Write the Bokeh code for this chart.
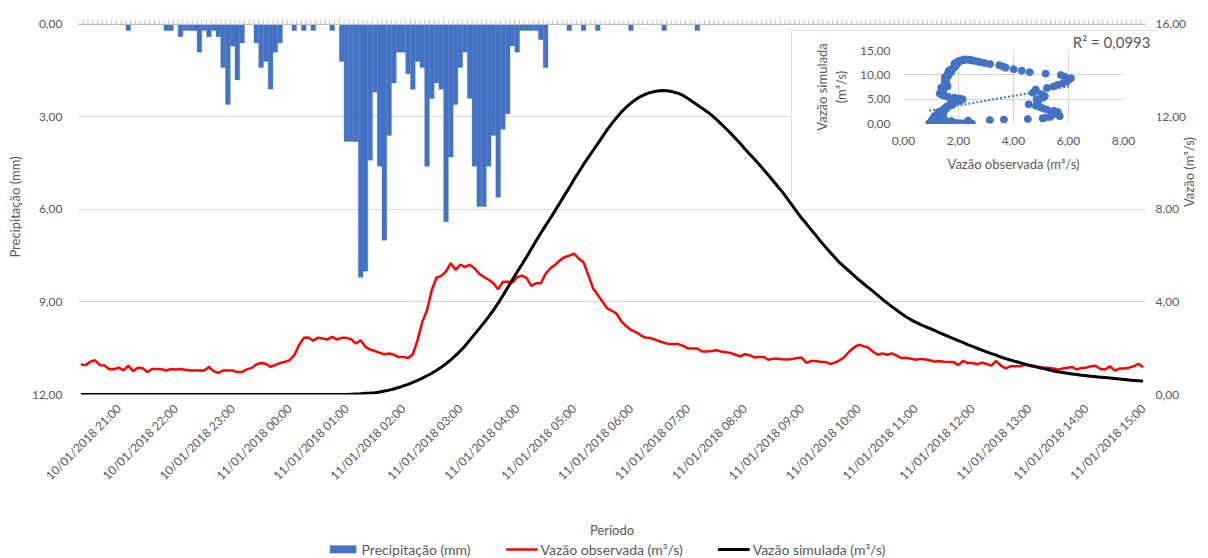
import math

import numpy as np
import pandas as pd
from bokeh.embed import file_html
from bokeh.models import (ColumnDataSource, FixedTicker, Grid, Legend, LegendItem,
                          LinearAxis, Range1d, Span)
from bokeh.plotting import figure
from bokeh.resources import INLINE

FONT = "Lato"
GREY = "#595959"
GRID = "#d9d9d9"
BLUE = "#4472C4"
RED = "#ff0000"

# Série a cada 5 min: 10/01/2018 20:20 até 11/01/2018 15:00 (225 registros)
inicio = pd.Timestamp("2018-01-10 20:20")
passo = pd.Timedelta(minutes=5)

precipitacao = (
    [0, 0, 0, 0, 0, 0, 0, 0, 0, 0, 0.2, 0]
    + [0, 0, 0, 0, 0, 0, 0.2, 0.2, 0, 0.4, 0.2, 0.2]
    + [0.2, 0.9, 0.2, 0.4, 0.2, 0.4, 1.4, 2.6, 0.7, 1.8, 0.6, 0]
    + [0, 0.6, 1.4, 1.2, 2.1, 0.9, 0.6, 0, 0, 0.2, 0, 0.2]
    + [0, 0.2, 0, 0, 0, 0.2, 0, 1.2, 3.8, 3.8, 3.8, 8.2]
    + [8.0, 4.4, 2.2, 4.6, 7.0, 3.6, 1.9, 0.9, 0.9, 1.6, 2.1, 1.2]
    + [1.4, 4.6, 2.4, 1.9, 2.1, 6.4, 4.3, 2.6, 1.4, 0.9, 2.4, 4.6]
    + [5.9, 5.9, 4.6, 3.6, 5.6, 3.4, 2.9, 0.7, 0.9, 0.2, 0.2, 0.2]
    + [0.2, 0.5, 1.4, 0, 0, 0, 0, 0.2, 0, 0, 0.2, 0]
    + [0, 0.2, 0, 0, 0, 0, 0, 0, 0.2, 0, 0, 0]
    + [0, 0, 0, 0.2, 0, 0, 0, 0, 0, 0, 0.2, 0]
    + [0] * 93
)

vazao_obs = [
    1.30, 1.27, 1.42, 1.48, 1.27, 1.25, 1.09, 1.09, 1.16, 1.04, 1.25, 1.01,
    1.16, 1.14, 0.97, 1.10, 1.10, 1.09, 1.04, 1.10, 1.08, 1.10, 1.07, 1.04,
    1.04, 1.04, 1.04, 1.19, 1.01, 0.93, 1.04, 1.04, 1.04, 0.97, 0.97, 1.09,
    1.14, 1.30, 1.36, 1.33, 1.19, 1.28, 1.36, 1.41, 1.48, 1.70, 2.13, 2.45,
    2.46, 2.32, 2.46, 2.42, 2.38, 2.49, 2.38, 2.45, 2.45, 2.39, 2.20, 2.35,
    2.06, 1.94, 1.88, 1.80, 1.74, 1.77, 1.72, 1.62, 1.62, 1.58, 1.74, 2.35,
    3.14, 3.65, 4.52, 5.06, 5.13, 5.32, 5.68, 5.39, 5.61, 5.51, 5.61, 5.46,
    5.22, 5.08, 4.96, 4.81, 4.55, 4.88, 4.88, 4.84, 5.07, 5.14, 5.03, 4.70,
    4.81, 4.81, 5.22, 5.46, 5.61, 5.80, 5.94, 6.00, 6.09, 5.87, 5.72, 5.17,
    4.59, 4.30, 4.01, 3.72, 3.62, 3.48, 3.15, 2.95, 2.79, 2.70, 2.57, 2.46,
    2.45, 2.38, 2.30, 2.24, 2.18, 2.18, 2.18, 2.10, 1.99, 1.99, 1.99, 1.86,
    1.86, 1.88, 1.91, 1.86, 1.83, 1.80, 1.72, 1.65, 1.74, 1.70, 1.60, 1.62,
    1.62, 1.50, 1.55, 1.55, 1.52, 1.51, 1.53, 1.58, 1.60, 1.37, 1.45, 1.45,
    1.41, 1.41, 1.32, 1.38, 1.48, 1.62, 1.85, 2.03, 2.15, 2.09, 2.03, 1.86,
    1.72, 1.78, 1.72, 1.78, 1.68, 1.58, 1.59, 1.55, 1.50, 1.54, 1.51, 1.48,
    1.42, 1.45, 1.42, 1.41, 1.41, 1.27, 1.45, 1.36, 1.36, 1.31, 1.37, 1.32,
    1.25, 1.45, 1.25, 1.13, 1.22, 1.22, 1.22, 1.29, 1.24, 1.20, 1.19, 1.17,
    1.16, 1.13, 1.07, 1.12, 1.16, 1.19, 1.08, 1.15, 1.16, 1.22, 1.24, 1.10,
    1.08, 1.22, 1.03, 1.12, 1.12, 1.16, 1.22, 1.33, 1.18,
]

vazao_sim = [0.0] * 57 + [
    0.01, 0.02, 0.03,
    0.05, 0.06, 0.08, 0.11, 0.15, 0.19, 0.24, 0.30, 0.37, 0.44, 0.52, 0.61,
    0.71, 0.81, 0.92, 1.05, 1.18, 1.33, 1.50, 1.68, 1.88, 2.10, 2.35, 2.60,
    2.85, 3.10, 3.37, 3.65, 3.95, 4.28, 4.62, 4.96, 5.30, 5.62, 5.95, 6.30,
    6.65, 6.98, 7.30, 7.62, 7.95, 8.28, 8.62, 8.95, 9.30, 9.62, 9.95, 10.25,
    10.55, 10.85, 11.15, 11.45, 11.72, 11.98, 12.22, 12.42, 12.60, 12.75, 12.88, 12.98,
    13.05, 13.10, 13.13, 13.14, 13.12, 13.08, 13.02, 12.93, 12.80, 12.66, 12.52, 12.38,
    12.24, 12.08, 11.90, 11.70, 11.50, 11.30, 11.08, 10.86, 10.63, 10.40, 10.18, 9.95,
    9.72, 9.48, 9.23, 8.98, 8.74, 8.46, 8.18, 7.90, 7.62, 7.38, 7.12, 6.88,
    6.62, 6.38, 6.15, 5.92, 5.70, 5.52, 5.33, 5.15, 4.97, 4.80, 4.63, 4.47,
    4.30, 4.12, 3.96, 3.80, 3.65, 3.50, 3.36, 3.24, 3.13, 3.03, 2.94, 2.86,
    2.77, 2.68, 2.59, 2.50, 2.42, 2.33, 2.25, 2.16, 2.08, 2.00, 1.92, 1.84,
    1.77, 1.70, 1.62, 1.55, 1.49, 1.43, 1.38, 1.32, 1.27, 1.22, 1.17, 1.12,
    1.07, 1.02, 0.98, 0.95, 0.92, 0.89, 0.86, 0.83, 0.81, 0.79, 0.77, 0.75,
    0.73, 0.71, 0.69, 0.67, 0.65, 0.63, 0.61, 0.59, 0.58,
]

precip_ticks = [0, 3, 6, 9, 12]
precip_labels = ["0,00", "3,00", "6,00", "9,00", "12,00"]
vazao_ticks = [0, 4, 8, 12, 16]
vazao_labels = ["0,00", "4,00", "8,00", "12,00", "16,00"]
inset_x_ticks = [0, 2, 4, 6, 8]
inset_x_labels = ["0,00", "2,00", "4,00", "6,00", "8,00"]
inset_y_ticks = [0, 5, 10, 15]
inset_y_labels = ["0,00", "5,00", "10,00", "15,00"]
r2_text = "R² = 0,0993"
series_names = ["Precipitação (mm)", "Vazão observada (m³/s)", "Vazão simulada (m³/s)"]

horas = pd.date_range("2018-01-10 21:00", "2018-01-11 15:00", freq="h")
hora_labels = [h.strftime("%d/%m/%Y %H:%M") for h in horas]


def _ms(ts):
    return np.asarray(pd.DatetimeIndex(ts).astype("int64") // 10**6, dtype=float)


def _style_axis(axis, label_size="13px"):
    axis.axis_line_color = None
    axis.major_tick_line_color = None
    axis.minor_tick_line_color = None
    axis.major_label_text_font = FONT
    axis.major_label_text_font_size = "12px"
    axis.major_label_text_color = GREY
    axis.axis_label_text_font = FONT
    axis.axis_label_text_font_size = label_size
    axis.axis_label_text_color = GREY
    axis.axis_label_text_font_style = "normal"


def _labels(ticks, labels):
    return {t: s for t, s in zip(ticks, labels)}


periodo = pd.date_range(inicio, periods=len(precipitacao), freq=passo)
t_ms = _ms(periodo)
meio = passo / pd.Timedelta(milliseconds=1) / 2
source = ColumnDataSource(data=dict(t=t_ms, prec=precipitacao, obs=vazao_obs, sim=vazao_sim))

# o template do Bokeh não tem margem no body: a figura ocupa a janela toda
W, H = 1208, 558
TOPO = -0.16  # espaço acima do zero para as marcas do eixo de categorias
p = figure(width=W, height=H, output_backend="svg", toolbar_location=None,
           x_range=Range1d(t_ms[0] - meio, t_ms[-1] + meio), y_range=Range1d(12, TOPO),
           x_axis_type=None, y_axis_type=None,
           min_border_left=78, min_border_right=56, min_border_top=19, min_border_bottom=164)
p.outline_line_color = None
p.extra_y_ranges = {"vazao": Range1d(0, 16 - TOPO * 16 / 12)}

ax_prec = LinearAxis(axis_label="Precipitação (mm)", ticker=FixedTicker(ticks=precip_ticks),
                     major_label_overrides=_labels(precip_ticks, precip_labels))
_style_axis(ax_prec)
ax_prec.major_label_standoff = 10
ax_prec.axis_label_standoff = 6
p.add_layout(ax_prec, "left")

ax_vazao = LinearAxis(y_range_name="vazao", axis_label="Vazão (m³/s)",
                      ticker=FixedTicker(ticks=vazao_ticks),
                      major_label_overrides=_labels(vazao_ticks, vazao_labels))
_style_axis(ax_vazao)
ax_vazao.major_label_standoff = 4
ax_vazao.axis_label_standoff = 0
if "axis_label_orientation" in ax_vazao.properties():
    ax_vazao.axis_label_orientation = math.pi / 2
p.add_layout(ax_vazao, "right")

tick_ms = _ms(horas)
ax_tempo = LinearAxis(axis_label="Período", ticker=FixedTicker(ticks=list(tick_ms)),
                      major_label_overrides={int(t): s for t, s in zip(tick_ms, hora_labels)},
                      major_label_orientation=math.pi / 4)
_style_axis(ax_tempo)
ax_tempo.major_label_standoff = 6
ax_tempo.axis_label_standoff = 31
p.add_layout(ax_tempo, "below")

p.add_layout(Grid(dimension=1, ticker=FixedTicker(ticks=precip_ticks[1:]), grid_line_color=GRID))

# eixo de categorias no topo: linha em zero e marcas entre registros
limites = np.append(t_ms - meio, t_ms[-1] + meio)
p.segment(x0=limites, y0=0, x1=limites, y1=TOPO, line_color="#c8c8c8", line_width=1)
p.add_layout(Span(location=0, dimension="width", line_color="#bfbfbf", line_width=1))

p.vbar(x="t", top="prec", bottom=0, width=2 * meio, source=source,
       fill_color=BLUE, line_color=BLUE, line_width=0.3)
p.line("t", "obs", source=source, y_range_name="vazao", line_color=RED, line_width=2.5)
p.line("t", "sim", source=source, y_range_name="vazao", line_color="black", line_width=3)

# gráfico de dispersão (observada x simulada)
IW, IH = 367, 167
ins = figure(width=IW, height=IH, output_backend="svg", toolbar_location=None,
             x_range=Range1d(0, 8), y_range=Range1d(0, 15),
             min_border_left=112, min_border_right=35, min_border_top=18, min_border_bottom=74)
ins.outline_line_color = None
ins.background_fill_color = "white"
ins.border_fill_color = "white"
ins.xaxis.ticker = FixedTicker(ticks=inset_x_ticks)
ins.yaxis.ticker = FixedTicker(ticks=inset_y_ticks)
ins.xaxis.major_label_overrides = _labels(inset_x_ticks, inset_x_labels)
ins.yaxis.major_label_overrides = _labels(inset_y_ticks, inset_y_labels)
ins.xaxis.axis_label = "Vazão observada (m³/s)"
ins.yaxis.axis_label = "Vazão simulada\n(m³/s)"
for ax in ins.xaxis + ins.yaxis:
    _style_axis(ax)
    ax.major_label_standoff = 7
    ax.axis_label_standoff = 8
ins.xgrid.grid_line_color = GRID
ins.ygrid.grid_line_color = GRID

ins.scatter("obs", "sim", source=source, size=7, fill_color=BLUE, line_color=BLUE)
coef = np.polyfit(vazao_obs, vazao_sim, 1)
xs = np.array([min(vazao_obs), max(vazao_obs)])
ins.line(xs, np.polyval(coef, xs), line_color=BLUE, line_width=2, line_dash="2 2")

ins.title.text = r2_text
ins.title.align = "right"
ins.title.offset = -27
ins.title.standoff = 0
ins.title.text_font = FONT
ins.title.text_font_size = "15px"
ins.title.text_font_style = "normal"
ins.title.text_color = GREY

ins.styles = {"position": "absolute", "left": "791px", "top": "30px",
              "outline": "1px solid #d9d9d9", "outline-offset": "-1px"}

# legenda em uma faixa própria abaixo do título do eixo; as séries ficam fora
# dos intervalos desta faixa, só as amostras da legenda aparecem
LW, LH = 620, 18
leg = figure(width=LW, height=LH, output_backend="svg", toolbar_location=None,
             x_range=Range1d(0, 1), y_range=Range1d(0, 1),
             x_axis_type=None, y_axis_type=None, min_border=0)
leg.outline_line_color = None
g_prec = leg.vbar(x="t", top="prec", bottom=0, width=2 * meio, source=source,
                  fill_color=BLUE, line_color=BLUE)
g_obs = leg.line("t", "obs", source=source, line_color=RED, line_width=2.5)
g_sim = leg.line("t", "sim", source=source, line_color="black", line_width=3)
legend = Legend(items=[LegendItem(label=name, renderers=[g])
                       for name, g in zip(series_names, [g_prec, g_obs, g_sim])],
                orientation="horizontal", location="center", border_line_color=None,
                background_fill_alpha=0, label_text_font=FONT, label_text_font_size="14px",
                label_text_color=GREY, glyph_width=32, glyph_height=9, label_standoff=3,
                label_height=16, spacing=35, padding=0, margin=0)
leg.add_layout(legend)
leg.styles = {"position": "absolute", "left": "296px", "top": "540px"}

open("out.html", "w").write(file_html([p, ins, leg], INLINE))
